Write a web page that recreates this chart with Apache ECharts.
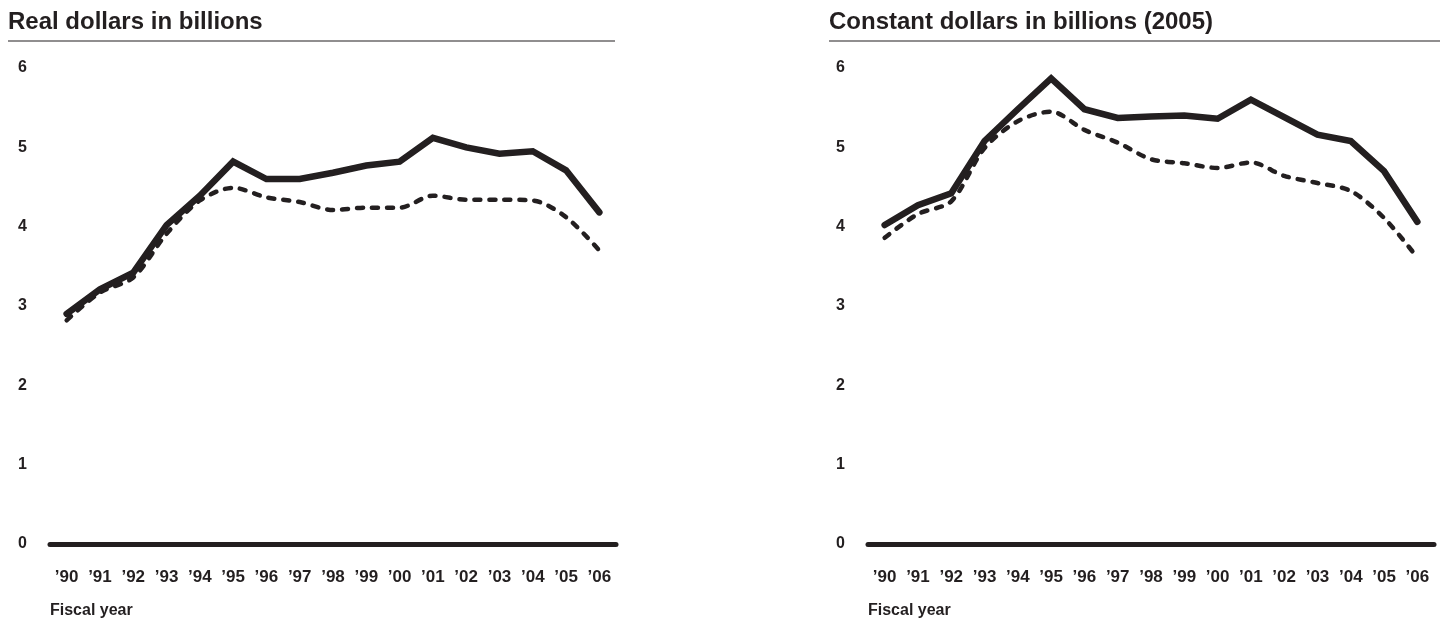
<!DOCTYPE html>
<html>
<head>
<meta charset="utf-8">
<script src="https://cdn.jsdelivr.net/npm/echarts@6/dist/echarts.min.js"></script>
<style>
  html, body { margin: 0; padding: 0; background: #fff; }
  #chart { width: 1449px; height: 622px; }
</style>
</head>
<body>
<div id="chart"></div>
<script>
// fiscal years on the x axis
var years = ['’90', '’91', '’92', '’93', '’94', '’95', '’96', '’97', '’98', '’99', '’00', '’01', '’02', '’03', '’04', '’05', '’06'];

// left panel: real dollars (billions)
var realSolid  = [2.90, 3.21, 3.42, 4.02, 4.39, 4.82, 4.60, 4.60, 4.68, 4.77, 4.82, 5.12, 5.00, 4.92, 4.95, 4.71, 4.18];
var realDashed = [2.82, 3.17, 3.36, 3.91, 4.33, 4.49, 4.37, 4.31, 4.21, 4.24, 4.24, 4.39, 4.34, 4.34, 4.33, 4.12, 3.70];

// right panel: constant 2005 dollars (billions)
var constSolid  = [4.02, 4.27, 4.42, 5.08, 5.48, 5.87, 5.48, 5.37, 5.39, 5.40, 5.36, 5.60, 5.38, 5.16, 5.08, 4.70, 4.06];
var constDashed = [3.86, 4.16, 4.32, 4.99, 5.33, 5.45, 5.22, 5.06, 4.85, 4.80, 4.74, 4.81, 4.64, 4.55, 4.45, 4.11, 3.61];

var ink = '#231f20';
var font = 'Liberation Sans, Arial, Helvetica, sans-serif';

function xAxisFor(idx) {
  return {
    type: 'category',
    gridIndex: idx,
    data: years,
    boundaryGap: true,
    axisLine: { show: true, lineStyle: { color: ink, width: 5 } },
    axisTick: { show: false },
    axisLabel: { color: ink, fontFamily: font, fontWeight: 'bold', fontSize: 17, margin: 25, interval: 0 }
  };
}

function yAxisFor(idx) {
  return {
    type: 'value',
    gridIndex: idx,
    min: 0,
    max: 6,
    interval: 1,
    axisLine: { show: false },
    axisTick: { show: false },
    splitLine: { show: false },
    axisLabel: { color: ink, fontFamily: font, fontWeight: 'bold', fontSize: 16, margin: 32, align: 'left' }
  };
}

function solid(idx, data) {
  return {
    type: 'line', xAxisIndex: idx, yAxisIndex: idx, data: data,
    symbol: 'none', silent: true,
    lineStyle: { color: ink, width: 6.5, cap: 'round', join: 'miter' }
  };
}

function dashed(idx, data) {
  return {
    type: 'line', xAxisIndex: idx, yAxisIndex: idx, data: data,
    symbol: 'none', silent: true, smooth: 0.3,
    lineStyle: { color: ink, width: 4.5, type: [6, 9], cap: 'round' }
  };
}

var chart = echarts.init(document.getElementById('chart'));
chart.setOption({
  animation: false,
  backgroundColor: '#fff',
  title: [
    { text: 'Real dollars in billions', left: 3, top: 5,
      textStyle: { color: ink, fontFamily: font, fontWeight: 'bold', fontSize: 24 } },
    { text: 'Constant dollars in billions (2005)', left: 824, top: 5,
      textStyle: { color: ink, fontFamily: font, fontWeight: 'bold', fontSize: 24 } }
  ],
  grid: [
    { left: 50, right: 833, top: 68, bottom: 78 },
    { left: 868, right: 15, top: 68, bottom: 78 }
  ],
  xAxis: [xAxisFor(0), xAxisFor(1)],
  yAxis: [yAxisFor(0), yAxisFor(1)],
  series: [
    dashed(0, realDashed),
    solid(0, realSolid),
    dashed(1, constDashed),
    solid(1, constSolid)
  ],
  graphic: [
    { type: 'line', shape: { x1: 8, y1: 41, x2: 615, y2: 41 }, style: { stroke: ink, lineWidth: 1.2 } },
    { type: 'line', shape: { x1: 829, y1: 41, x2: 1440, y2: 41 }, style: { stroke: ink, lineWidth: 1.2 } },
    { type: 'text', left: 50, top: 603,
      style: { text: 'Fiscal year', fill: ink, font: 'bold 16px ' + font } },
    { type: 'text', left: 868, top: 603,
      style: { text: 'Fiscal year', fill: ink, font: 'bold 16px ' + font } }
  ]
});
</script>
</body>
</html>
